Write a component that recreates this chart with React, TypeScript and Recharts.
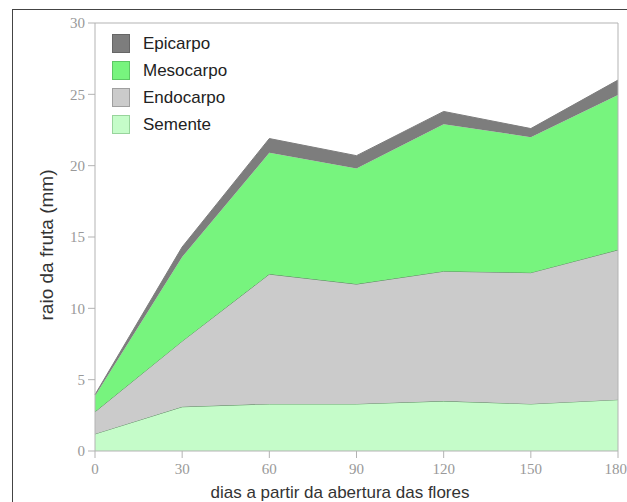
import { AreaChart, Area, XAxis, YAxis, ReferenceLine } from 'recharts';

// dias a partir da abertura das flores
const days = [0, 30, 60, 90, 120, 150, 180];

// espessura de cada camada (mm), empilhadas de baixo para cima
const semente = [1.2, 3.1, 3.3, 3.3, 3.5, 3.3, 3.6];
const endocarpo = [1.55, 4.6, 9.1, 8.4, 9.1, 9.2, 10.5];
const mesocarpo = [1.1, 5.9, 8.5, 8.1, 10.3, 9.5, 10.85];
const epicarpo = [0.1, 0.7, 1.0, 0.9, 0.9, 0.6, 1.05];

const xTicks = [0, 30, 60, 90, 120, 150, 180];
const yTicks = [0, 5, 10, 15, 20, 25, 30];

const data = days.map((d, i) => ({
  dia: d,
  Semente: semente[i],
  Endocarpo: endocarpo[i],
  Mesocarpo: mesocarpo[i],
  Epicarpo: epicarpo[i],
}));

const legendItems = [
  { name: 'Epicarpo', fill: '#7d7d7d', border: '#666666' },
  { name: 'Mesocarpo', fill: '#77f47e', border: '#5cc764' },
  { name: 'Endocarpo', fill: '#cbcbcb', border: '#9f9f9f' },
  { name: 'Semente', fill: '#c5fcc9', border: '#98d49c' },
];

const LegendBox = () => (
  <div style={{ position: 'absolute', left: 112, top: 30 }}>
    {legendItems.map(item => (
      <div key={item.name} style={{ display: 'flex', alignItems: 'center', height: 27 }}>
        <div
          style={{
            width: 16,
            height: 17,
            background: item.fill,
            border: `1px solid ${item.border}`,
            marginRight: 13,
          }}
        />
        <span style={{ fontFamily: 'Liberation Sans, Arial, sans-serif', fontSize: 17, color: '#222' }}>
          {item.name}
        </span>
      </div>
    ))}
  </div>
);

const YLabel = () => (
  <text
    x={46}
    y={245}
    transform="rotate(-90 46 245)"
    textAnchor="middle"
    dominantBaseline="central"
    fontFamily="Liberation Sans, Arial, sans-serif"
    fontSize={19}
    fill="#333"
  >
    raio da fruta (mm)
  </text>
);

const XLabel = () => (
  <text
    x={340}
    y={492}
    textAnchor="middle"
    dominantBaseline="central"
    fontFamily="Liberation Sans, Arial, sans-serif"
    fontSize={17}
    fill="#333"
  >
    dias a partir da abertura das flores
  </text>
);

const tickStyle = { fontFamily: 'Liberation Serif, Times New Roman, serif', fontSize: 15, fill: '#999' };
const lineColor = '#b3b3b3';
const edge = '#5b8a60';

export default function App() {
  return (
    <div style={{ position: 'absolute', left: 0, top: 0, width: 627, height: 502, overflow: 'hidden', background: '#fff' }}>
      <div
        style={{
          position: 'absolute',
          left: 12,
          top: 9,
          width: 700,
          height: 600,
          border: '1.5px solid #444',
        }}
      />
      <div style={{ position: 'absolute', left: 0, top: 0 }}>
        <AreaChart width={627} height={502} data={data} margin={{ top: 23, right: 9, left: 0, bottom: 0 }}>
          <XAxis
            dataKey="dia"
            type="number"
            domain={[0, 180]}
            ticks={xTicks}
            height={51}
            tickSize={7}
            tickMargin={5}
            tick={tickStyle}
            stroke={lineColor}
            label={<XLabel />}
          />
          <YAxis
            type="number"
            domain={[0, 30]}
            ticks={yTicks}
            width={95}
            tickSize={7}
            tickMargin={3}
            tick={tickStyle}
            stroke={lineColor}
            label={<YLabel />}
          />
          <ReferenceLine y={30} stroke={lineColor} />
          <ReferenceLine x={180} stroke={lineColor} />
          <Area type="linear" dataKey="Semente" stackId="1" stroke={edge} strokeWidth={1} fill="#c5fcc9" fillOpacity={1} isAnimationActive={false} />
          <Area type="linear" dataKey="Endocarpo" stackId="1" stroke={edge} strokeWidth={1} fill="#cbcbcb" fillOpacity={1} isAnimationActive={false} />
          <Area type="linear" dataKey="Mesocarpo" stackId="1" stroke="#77f47e" strokeWidth={0} fill="#77f47e" fillOpacity={1} isAnimationActive={false} />
          <Area type="linear" dataKey="Epicarpo" stackId="1" stroke="#7d7d7d" strokeWidth={1} fill="#7d7d7d" fillOpacity={1} isAnimationActive={false} />
        </AreaChart>
      </div>
      <LegendBox />
    </div>
  );
}
